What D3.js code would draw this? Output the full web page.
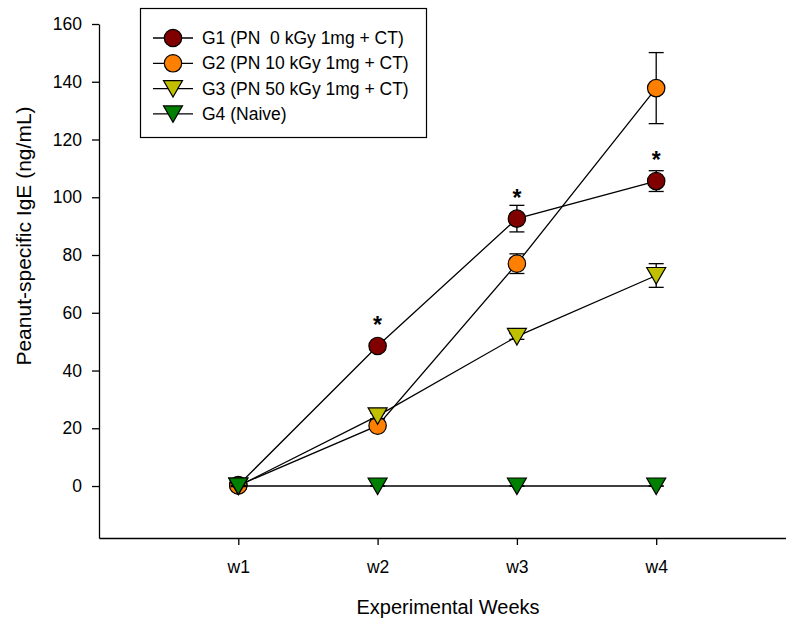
<!DOCTYPE html>
<html>
<head>
<meta charset="utf-8">
<script src="https://cdn.jsdelivr.net/npm/d3@7"></script>
<style>
    body { margin: 0; background: #fff; }
    svg { display: block; font-family: "Liberation Sans", Arial, sans-serif; }
</style>
</head>
<body>
<div class="chart"></div>
<script>
// values
var weeks = ['w1', 'w2', 'w3', 'w4'];
var groupNames = ['G1 (PN  0 kGy 1mg + CT)', 'G2 (PN 10 kGy 1mg + CT)', 'G3 (PN 50 kGy 1mg + CT)', 'G4 (Naive)'];
var g1Mean = [0.3, 48.5, 92.6, 105.6];
var g1Err  = [0.3, 1.2, 4.6, 3.6];
var g2Mean = [0.2, 20.9, 77.0, 137.8];
var g2Err  = [0.2, 1.2, 3.4, 12.3];
var g3Mean = [0.0, 24.3, 51.8, 72.9];
var g3Err  = [0.2, 1.0, 1.0, 4.1];
var g4Mean = [0.0, 0.0, 0.0, 0.0];
var g4Err  = [0.0, 0.0, 0.0, 0.0];
var starWeeks = ['w2', 'w3', 'w4'];   // significance marks above G1
var yTicks = [0, 20, 40, 60, 80, 100, 120, 140, 160];

var groups = [
    {name: groupNames[0], mean: g1Mean, err: g1Err, color: '#800000', shape: 'circle'},
    {name: groupNames[1], mean: g2Mean, err: g2Err, color: '#ff8000', shape: 'circle'},
    {name: groupNames[2], mean: g3Mean, err: g3Err, color: '#c0c000', shape: 'tri'},
    {name: groupNames[3], mean: g4Mean, err: g4Err, color: '#008000', shape: 'tri'}
];

var width = 786,
    height = 625;

var x = d3.scaleLinear()
    .domain([0, 5])
    .range([99, 795.5]);

var y = d3.scaleLinear()
    .domain([-18, 160])
    .range([538, 24]);

var svg = d3.select('.chart').append('svg')
    .attr('width', width)
    .attr('height', height);

svg.append('rect')
    .attr('width', width)
    .attr('height', height)
    .attr('fill', '#fff');

// axes
svg.append('g')
    .attr('transform', 'translate(' + x(0) + ',0)')
    .call(d3.axisLeft(y).tickValues(yTicks).tickSize(7).tickSizeOuter(0).tickPadding(10));

svg.append('g')
    .attr('transform', 'translate(0,' + y(-18) + ')')
    .call(d3.axisBottom(x).tickValues([1, 2, 3, 4]).tickSize(7).tickSizeOuter(0).tickPadding(16)
        .tickFormat(function(d) { return weeks[d - 1]; }));

svg.selectAll('.tick text')
    .attr('font-size', 17.5)
    .attr('font-family', '"Liberation Sans", Arial, sans-serif')
    .attr('fill', '#000');
svg.selectAll('.domain, .tick line')
    .attr('stroke', '#000')
    .attr('stroke-width', 1.3);

svg.append('text')
    .attr('transform', 'rotate(-90)')
    .attr('x', -236)
    .attr('y', 31)
    .attr('text-anchor', 'middle')
    .attr('font-size', 21)
    .text('Peanut-specific IgE (ng/mL)');

svg.append('text')
    .attr('x', 448)
    .attr('y', 614)
    .attr('text-anchor', 'middle')
    .attr('font-size', 20)
    .text('Experimental Weeks');

var triPath = 'M-9.5,-8L9.5,-8L0,8.5Z';

function drawMarker(sel, grp) {
    if (grp.shape === 'circle') {
        sel.append('circle')
            .attr('r', 8.7)
            .attr('fill', grp.color)
            .attr('stroke', '#000')
            .attr('stroke-width', 1.2);
    } else {
        sel.append('path')
            .attr('d', triPath)
            .attr('fill', grp.color)
            .attr('stroke', '#000')
            .attr('stroke-width', 1.2);
    }
}

var line = d3.line()
    .x(function(d, i) { return x(i + 1); })
    .y(function(d) { return y(d); });

groups.forEach(function(grp) {
    var g = svg.append('g');

    g.append('path')
        .attr('d', line(grp.mean))
        .attr('fill', 'none')
        .attr('stroke', '#000')
        .attr('stroke-width', 1.3);

    var bars = g.selectAll('.err')
        .data(grp.mean)
        .enter().append('g');
    bars.append('line')
        .attr('x1', function(d, i) { return x(i + 1); })
        .attr('x2', function(d, i) { return x(i + 1); })
        .attr('y1', function(d, i) { return y(d + grp.err[i]); })
        .attr('y2', function(d, i) { return y(d - grp.err[i]); })
        .attr('stroke', '#000')
        .attr('stroke-width', 1.3);
    [1, -1].forEach(function(s) {
        bars.append('line')
            .attr('x1', function(d, i) { return x(i + 1) - 7.5; })
            .attr('x2', function(d, i) { return x(i + 1) + 7.5; })
            .attr('y1', function(d, i) { return y(d + s * grp.err[i]); })
            .attr('y2', function(d, i) { return y(d + s * grp.err[i]); })
            .attr('stroke', '#000')
            .attr('stroke-width', 1.3);
    });

    var pts = g.selectAll('.pt')
        .data(grp.mean)
        .enter().append('g')
        .attr('transform', function(d, i) { return 'translate(' + x(i + 1) + ',' + y(d) + ')'; });
    drawMarker(pts, grp);
});

// asterisks above G1
svg.selectAll('.star')
    .data(starWeeks)
    .enter().append('text')
    .attr('x', function(d) { return x(weeks.indexOf(d) + 1); })
    .attr('y', function(d) { return y(g1Mean[weeks.indexOf(d)]) - 13; })
    .attr('text-anchor', 'middle')
    .attr('font-size', 23)
    .attr('font-weight', 'bold')
    .text('*');

// legend
var legend = svg.append('g');
legend.append('rect')
    .attr('x', 140.5)
    .attr('y', 8.5)
    .attr('width', 286)
    .attr('height', 129)
    .attr('fill', '#fff')
    .attr('stroke', '#000')
    .attr('stroke-width', 1.2);

var rows = legend.selectAll('.row')
    .data(groups)
    .enter().append('g')
    .attr('transform', function(d, i) { return 'translate(0,' + (38 + i * 25.3) + ')'; });

rows.append('line')
    .attr('x1', 153)
    .attr('x2', 193)
    .attr('stroke', '#000')
    .attr('stroke-width', 1.3);

rows.each(function(grp) {
    var m = d3.select(this).append('g').attr('transform', 'translate(173,0)');
    drawMarker(m, grp);
});

rows.append('text')
    .attr('x', 202)
    .attr('y', 6)
    .attr('font-size', 17.5)
    .style('white-space', 'pre')
    .text(function(d) { return d.name; });
</script>
</body>
</html>
